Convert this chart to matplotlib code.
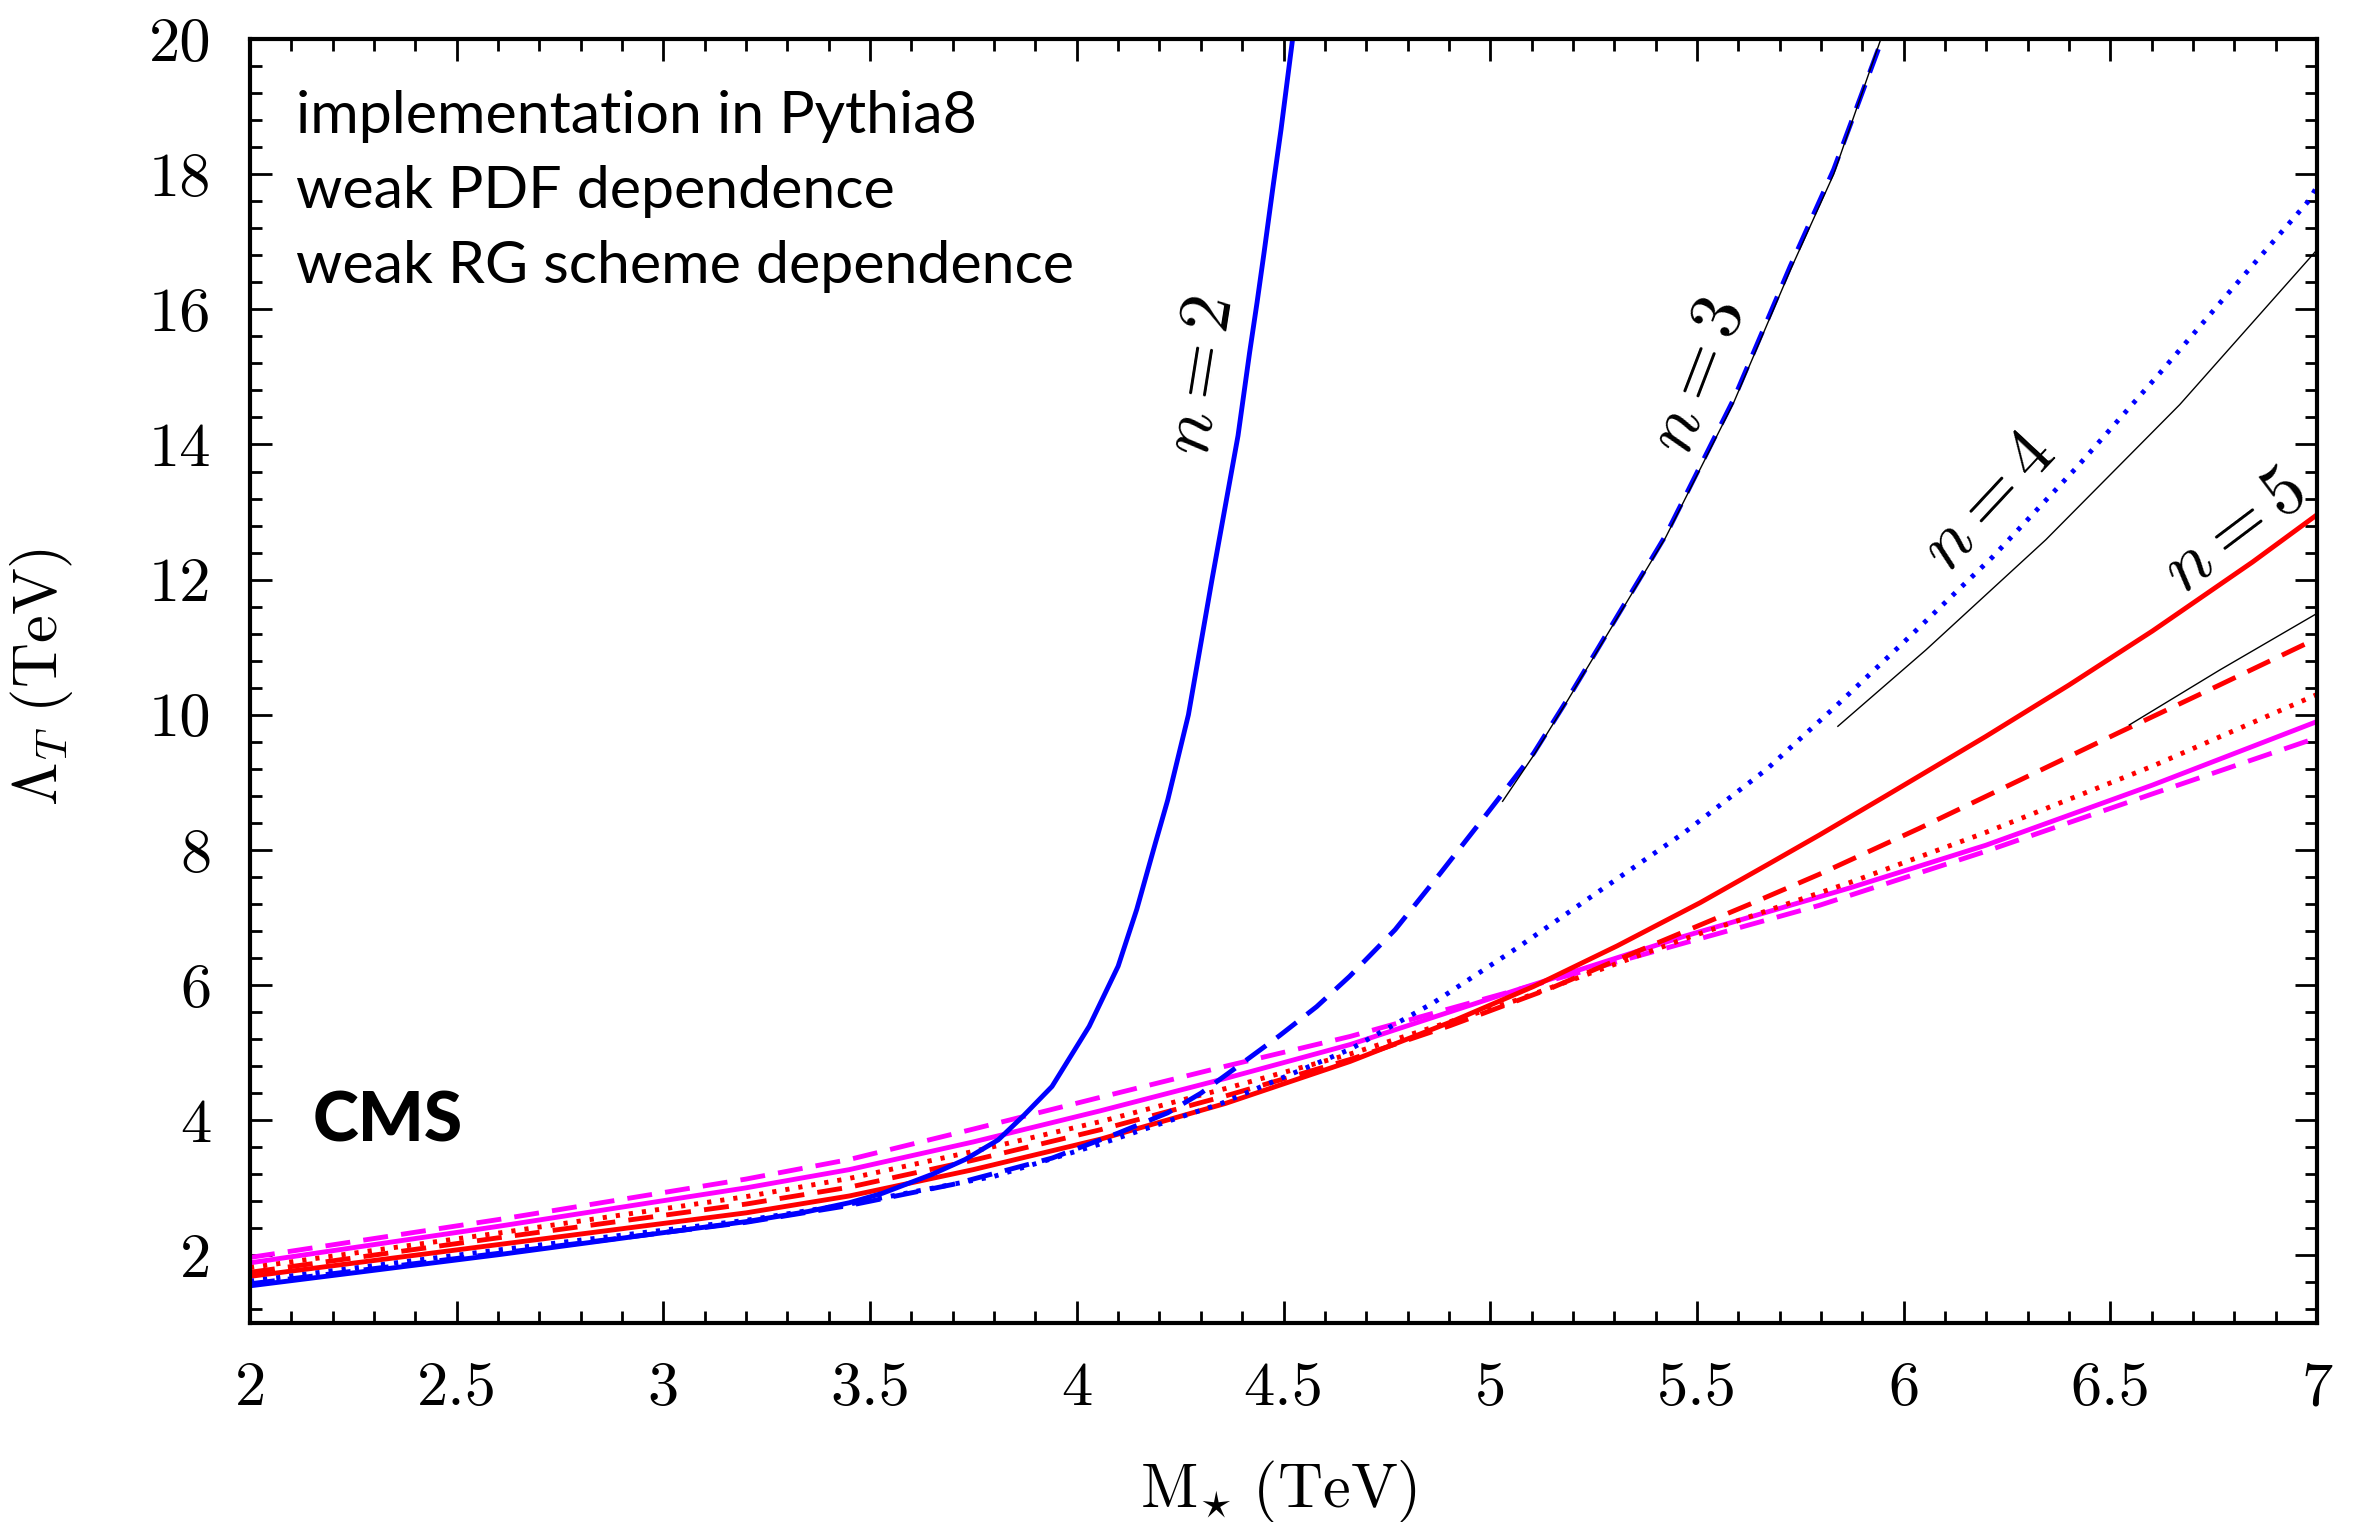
import matplotlib
matplotlib.use("Agg")
import matplotlib.pyplot as plt
from matplotlib.ticker import MultipleLocator, FixedLocator, FixedFormatter

plt.rcParams['mathtext.fontset'] = 'cm'
plt.rcParams['lines.scale_dashes'] = False
plt.rcParams['axes.unicode_minus'] = False

# ---------------- data ----------------
# n = 2, blue solid
b2_x = [2.0, 2.6, 3.2, 3.35, 3.45, 3.53, 3.65, 3.73, 3.81, 3.87, 3.94, 4.03, 4.10, 4.145,
        4.19, 4.22, 4.27, 4.327, 4.39, 4.418, 4.436, 4.453, 4.475, 4.494, 4.522]
b2_y = [1.55, 2.01, 2.50, 2.65, 2.78, 2.92, 3.20, 3.42, 3.71, 4.06, 4.50, 5.39, 6.28, 7.12,
        8.10, 8.74, 10.0, 12.0, 14.13, 15.36, 16.10, 16.84, 17.83, 18.66, 20.0]
# n = 3, blue dashed
b3_x = [2.0, 2.6, 3.2, 3.45, 3.7, 3.94, 4.10, 4.22, 4.30, 4.39, 4.49, 4.58, 4.66, 4.77,
        4.88, 4.99, 5.105, 5.186, 5.424, 5.589, 5.726, 5.831, 5.948]
b3_y = [1.58, 2.03, 2.49, 2.74, 3.05, 3.44, 3.81, 4.11, 4.40, 4.80, 5.25, 5.68, 6.13, 6.82,
        7.66, 8.52, 9.43, 10.22, 12.65, 14.67, 16.64, 18.07, 20.0]
# n = 4, blue dotted
b4_x = [2.0, 2.6, 3.2, 3.45, 3.8, 4.057, 4.35, 4.661, 4.863, 5.065, 5.266, 5.468, 5.67,
        5.84, 5.998, 6.216, 6.417, 6.619, 6.78, 6.982, 7.0]
b4_y = [1.62, 2.08, 2.52, 2.76, 3.17, 3.65, 4.25, 5.05, 5.74, 6.55, 7.40, 8.25, 9.20,
        10.15, 11.06, 12.34, 13.65, 15.05, 16.20, 17.62, 17.82]
# red solid
rs_x = [2.0, 2.6, 3.2, 3.45, 3.75, 4.057, 4.36, 4.661, 4.903, 5.105, 5.307, 5.508, 5.67,
        5.796, 5.957, 6.199, 6.4, 6.602, 6.844, 7.0]
rs_y = [1.69, 2.16, 2.63, 2.88, 3.27, 3.72, 4.25, 4.87, 5.45, 5.98, 6.58, 7.22, 7.78,
        8.22, 8.80, 9.68, 10.44, 11.24, 12.26, 12.96]
# red dashed
rd_x = [2.0, 2.6, 3.2, 3.45, 3.75, 4.057, 4.36, 4.661, 4.903, 5.145, 5.387, 5.629, 5.796,
        6.038, 6.28, 6.522, 6.764, 7.0]
rd_y = [1.75, 2.26, 2.76, 3.01, 3.41, 3.86, 4.36, 4.90, 5.40, 5.95, 6.58, 7.20, 7.64,
        8.32, 9.03, 9.74, 10.44, 11.13]
# red dotted
rt_x = [2.0, 2.6, 3.2, 3.45, 3.75, 4.057, 4.36, 4.661, 5.065, 5.468, 5.871, 6.199, 6.602, 7.0]
rt_y = [1.82, 2.33, 2.87, 3.14, 3.54, 3.98, 4.47, 4.98, 5.78, 6.68, 7.52, 8.26, 9.24, 10.30]
# magenta solid
ms_x = [2.0, 2.6, 3.2, 3.45, 3.75, 4.057, 4.36, 4.661, 5.065, 5.468, 5.871, 6.199, 6.602, 7.0]
ms_y = [1.89, 2.43, 3.00, 3.27, 3.68, 4.14, 4.62, 5.12, 5.93, 6.72, 7.44, 8.07, 8.96, 9.90]
# magenta dashed
md_x = [2.0, 2.6, 3.2, 3.45, 3.75, 4.057, 4.36, 4.661, 5.065, 5.468, 5.796, 6.199, 6.602, 7.0]
md_y = [1.97, 2.53, 3.13, 3.42, 3.87, 4.34, 4.80, 5.24, 5.93, 6.62, 7.18, 7.98, 8.83, 9.66]
# thin black reference curves
k3_x = [5.03, 5.105, 5.186, 5.424, 5.589, 5.726, 5.831, 5.945]
k3_y = [8.72, 9.40, 10.20, 12.62, 14.62, 16.58, 18.00, 20.0]
k4_x = [5.841, 6.054, 6.344, 6.668, 7.0]
k4_y = [9.83, 10.96, 12.59, 14.59, 16.88]
k5_x = [6.546, 6.764, 7.0]
k5_y = [9.85, 10.66, 11.50]

x_ticks = [2, 2.5, 3, 3.5, 4, 4.5, 5, 5.5, 6, 6.5, 7]
x_tick_labels = ['2', '2.5', '3', '3.5', '4', '4.5', '5', '5.5', '6', '6.5', '7']
y_ticks = [2, 4, 6, 8, 10, 12, 14, 16, 18, 20]
y_tick_labels = ['2', '4', '6', '8', '10', '12', '14', '16', '18', '20']

text_lines = ['implementation in Pythia8', 'weak PDF dependence',
              'weak RG scheme dependence']
n_labels = [r'$n=2$', r'$n=3$', r'$n=4$', r'$n=5$']
n_label_pos = [(4.299, 15.01), (5.503, 15.01), (6.205, 13.15), (6.800, 12.71)]
n_label_rot = [81, 69, 47, 37]

# ---------------- figure ----------------
W, H = 2359, 1522
fig = plt.figure(figsize=(W / 100, H / 100), dpi=100)
L, R, T, B = 250, 2317, 39, 1323
ax = fig.add_axes([L / W, 1 - B / H, (R - L) / W, (B - T) / H])

lw = 3.5
dash = (0, (18, 9.5))
dot = (0, (3, 6.5))
blue, red, mag = '#0000ff', '#ff0000', '#ff00ff'

ax.plot(md_x, md_y, color=mag, lw=lw, ls=dash)
ax.plot(ms_x, ms_y, color=mag, lw=lw)
ax.plot(rt_x, rt_y, color=red, lw=lw, ls=dot, dash_capstyle='butt')
ax.plot(rd_x, rd_y, color=red, lw=lw, ls=dash)
ax.plot(rs_x, rs_y, color=red, lw=lw)
ax.plot(b4_x, b4_y, color=blue, lw=lw, ls=dot, dash_capstyle='butt')
ax.plot(b3_x, b3_y, color=blue, lw=lw, ls=dash)
ax.plot(b2_x, b2_y, color=blue, lw=lw)
for kx, ky in [(k3_x, k3_y), (k4_x, k4_y), (k5_x, k5_y)]:
    ax.plot(kx, ky, color='black', lw=1.0)

ax.set_xlim(2, 7)
ax.set_ylim(1, 20)

ax.xaxis.set_major_locator(FixedLocator(x_ticks))
ax.xaxis.set_major_formatter(FixedFormatter(x_tick_labels))
ax.xaxis.set_minor_locator(MultipleLocator(0.1))
ax.yaxis.set_major_locator(FixedLocator(y_ticks))
ax.yaxis.set_major_formatter(FixedFormatter(y_tick_labels))
ax.yaxis.set_minor_locator(MultipleLocator(0.4))

ax.tick_params(which='both', direction='in', top=True, right=True, width=2.0)
ax.tick_params(which='major', length=16)
ax.tick_params(which='minor', length=8.5)
ax.tick_params(axis='x', which='major', pad=28)
ax.tick_params(axis='y', which='major', pad=28)
for lab in ax.get_xticklabels() + ax.get_yticklabels():
    lab.set_fontfamily('cmr10')
    lab.set_fontsize(45)
for sp in ax.spines.values():
    sp.set_linewidth(3)

ax.set_xlabel(r'$\mathrm{M}_{\star}\ \mathrm{(TeV)}$', fontsize=45)
ax.xaxis.set_label_coords((1279 - L) / (R - L), (B - 1458) / (B - T))
ax.set_ylabel(r'$\Lambda_T\ \mathrm{(TeV)}$', fontsize=45)
ax.yaxis.set_label_coords((75 - L) / (R - L), (B - 677) / (B - T))

for i, line in enumerate(text_lines):
    ax.text((296 - L) / (R - L), (B - (133 + 75 * i)) / (B - T), line,
            transform=ax.transAxes, fontsize=42.5, family='Lato', va='baseline', ha='left')
ax.text((313 - L) / (R - L), (B - 1142) / (B - T), 'CMS', transform=ax.transAxes,
        fontsize=50, family='Lato', fontweight='black', va='baseline', ha='left')

for lbl, (px, py), rot in zip(n_labels, n_label_pos, n_label_rot):
    ax.text(px, py, lbl, fontsize=52, rotation=rot, rotation_mode='anchor',
            ha='center', va='center')

fig.savefig('out.png', dpi=100)
